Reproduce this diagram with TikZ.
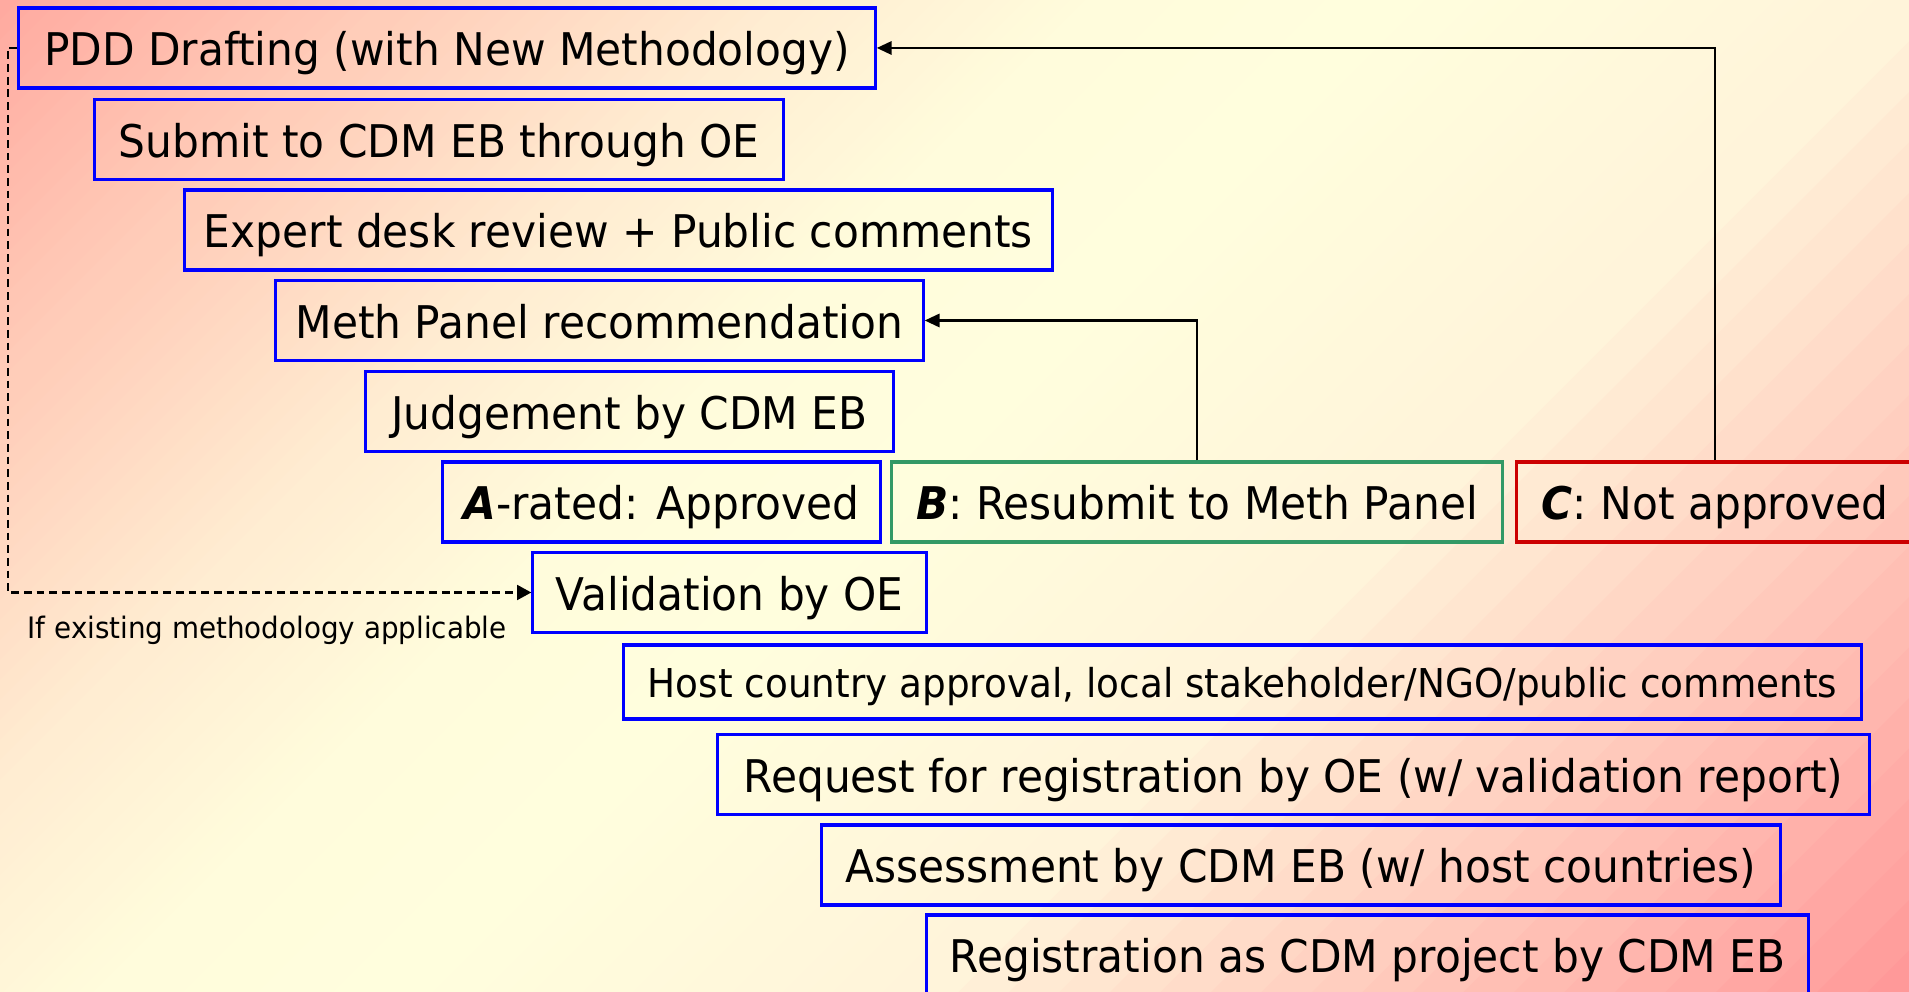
\documentclass[tikz,border=0pt]{standalone}
\usepackage{fontspec}
\setmainfont{DejaVu Sans}[FakeStretch=0.94]
\usetikzlibrary{arrows.meta}
\definecolor{g0}{HTML}{FFAAA0}
\definecolor{g1}{HTML}{FFCDB9}
\definecolor{g2}{HTML}{FFEDD2}
\definecolor{g3}{HTML}{FFFCDC}
\definecolor{g4}{HTML}{FFFEDD}
\definecolor{g5}{HTML}{FFF4DA}
\definecolor{g6}{HTML}{FF9999}
\definecolor{boxblue}{RGB}{0,0,255}
\definecolor{boxgreen}{RGB}{51,153,102}
\definecolor{boxred}{RGB}{204,0,0}
\tikzset{
  stepbox/.style={draw=boxblue, line width=0.9pt, inner sep=0pt, minimum height=0.8cm,
    font=\fontsize{12.8}{15}\selectfont, text=black, text height=10.2pt, text depth=0pt},
  conn/.style={draw=black, line width=0.6pt, -{Triangle[length=4.2pt,width=3.8pt]}},
  dconn/.style={draw=black, line width=0.6pt, dash pattern=on 2.2pt off 1.4pt,
    -{Triangle[length=4pt,width=4.2pt]}},
}
\begin{document}
\begin{tikzpicture}[x=0.01cm,y=-0.01cm]
\useasboundingbox (0,0) rectangle (1909,992);
% background gradient (iso-lines x+y = const)
\begin{scope}
\clip (0,0) rectangle (1909,992);
\foreach \sa/\sb/\ca/\cb in {0/400/g0/g1,400/800/g1/g2,800/1100/g2/g3,1100/1400/g3/g4,1400/1900/g4/g5,1900/2910/g5/g6}{
  \foreach \k in {0,...,19}{
    \pgfmathsetmacro\p{100/19*\k}
    \pgfmathsetmacro\d{(\sb-\sa)/20}
    \pgfmathsetmacro\u{\sa+\d*\k}
    \pgfmathsetmacro\v{\sa+\d*(\k+1)+3}
    \pgfmathsetmacro\ub{\u-992}
    \pgfmathsetmacro\vb{\v-992}
    \fill[color=\cb!\p!\ca] (\u,0) -- (\v,0) -- (\vb,992) -- (\ub,992) -- cycle;
  }
}
\end{scope}
% boxes
\node[stepbox, minimum width=8.56cm] (pdd) at (447,48) {PDD Drafting (with New Methodology)};
\node[stepbox, minimum width=6.88cm] (sub) at (439,139.5) {Submit to CDM EB through OE};
\node[stepbox, minimum width=8.67cm] (exp) at (618.5,230) {Expert desk review + Public comments};
\node[stepbox, minimum width=6.47cm] (meth) at (599.5,320.5) {Meth Panel recommendation};
\node[stepbox, minimum width=5.27cm] (judg) at (629.5,411.5) {Judgement by CDM EB};
\node[stepbox, minimum width=4.37cm] (A) at (661.5,502) {\textbf{\textit{A}}-rated: Approved};
\node[stepbox, draw=boxgreen, minimum width=6.10cm] (B) at (1197,502) {\textbf{\textit{B}}: Resubmit to Meth Panel};
\node[stepbox, draw=boxred, minimum width=3.96cm] (C) at (1715,502) {\textbf{\textit{C}}: Not approved};
\node[stepbox, minimum width=3.93cm] (val) at (729.5,592.5) {Validation by OE};
\node[stepbox, minimum width=12.37cm, minimum height=0.74cm, text height=9pt, font=\fontsize{11.3}{13}\selectfont] (host) at (1242.5,682) {Host country approval, local stakeholder/NGO/public comments};
\node[stepbox, minimum width=11.51cm] (req) at (1293.5,774.5) {Request for registration by OE (w/ validation report)};
\node[stepbox, minimum width=9.58cm] (ass) at (1301,865) {Assessment by CDM EB (w/ host countries)};
\node[stepbox, minimum width=8.81cm] (reg) at (1367.5,955) {Registration as CDM project by CDM EB};
% connectors
\draw[conn] (C.north) |- (pdd.east);
\draw[conn] (B.north) |- (meth.east);
\coordinate (dl) at (8,48);
\draw[dconn] (pdd.west) -- (dl) |- (val.west);
\node[anchor=base west, inner sep=0pt, font=\fontsize{8.4}{10}\selectfont] (lbl) at (27,639) {If existing methodology applicable};
\end{tikzpicture}
\end{document}
